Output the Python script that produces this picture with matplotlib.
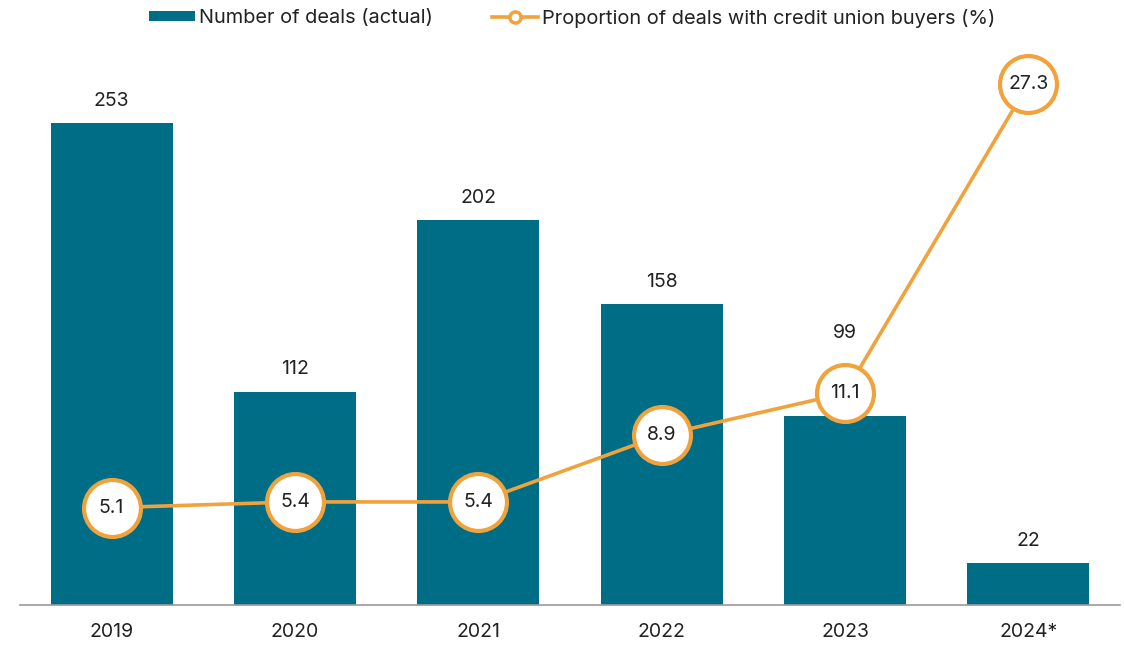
import matplotlib
matplotlib.use("Agg")
import matplotlib.pyplot as plt
from matplotlib.patches import Patch
from matplotlib.lines import Line2D

years = ["2019", "2020", "2021", "2022", "2023", "2024*"]
deal_counts = [253, 112, 202, 158, 99, 22]
credit_union_share = [5.1, 5.4, 5.4, 8.9, 11.1, 27.3]

TEAL = "#006d87"
ORANGE = "#f0a23c"
TEXT = "#222222"
FS = 14
LEGEND_FS = 14.4

plt.rcParams["font.family"] = ["Inter", "DejaVu Sans"]

fig = plt.figure(figsize=(11.24, 6.45), dpi=100)
W, H = 1124, 645
left, right, bottom, top = 20, 1120, 605, 40
ax = fig.add_axes([left / W, 1 - bottom / H, (right - left) / W, (bottom - top) / H])

x = list(range(len(years)))
ax.bar(x, deal_counts, width=0.665, color=TEAL, zorder=2)
ymax = (bottom - top) / 1.905
ax.set_ylim(0, ymax)
ax.set_xlim(-0.5, 5.5)

for xi, v in zip(x, deal_counts):
    # the 2023 label sits above the marker circle
    offset = 16 if v != 99 else 60
    ax.annotate(str(v), (xi, v), xytext=(0, offset), textcoords="offset points",
                ha="center", va="center", fontsize=FS, color=TEXT)

for s in ["top", "right", "left"]:
    ax.spines[s].set_visible(False)
ax.spines["bottom"].set_color("#9a9a9a")
ax.spines["bottom"].set_linewidth(1.2)
ax.set_yticks([])
ax.set_xticks(x)
ax.set_xticklabels(years, fontsize=FS, color=TEXT)
ax.tick_params(axis="x", length=0, pad=13)

ax2 = ax.twinx()
ax2.set_ylim(0, ymax / 10.02)
ax2.plot(x, credit_union_share, color=ORANGE, lw=2.6, marker="o", markersize=41,
         markerfacecolor="white", markeredgecolor=ORANGE, markeredgewidth=3, zorder=3)
for xi, v in zip(x, credit_union_share):
    ax2.text(xi, v, f"{v}", ha="center", va="center", fontsize=FS, color=TEXT, zorder=4)
ax2.axis("off")

handles = [
    Patch(facecolor=TEAL, edgecolor="none"),
    Line2D([], [], color=ORANGE, lw=2.6, marker="o", markersize=8,
           markerfacecolor="white", markeredgecolor=ORANGE, markeredgewidth=2.5),
]
labels = ["Number of deals (actual)", "Proportion of deals with credit union buyers (%)"]
fig.legend(handles, labels, loc="center", bbox_to_anchor=(572 / W, 1 - 18 / H),
           ncol=2, frameon=False, fontsize=LEGEND_FS, handlelength=2.3, handleheight=0.4,
           handletextpad=0.2, columnspacing=2.95, labelcolor=TEXT)

fig.savefig("out.png", dpi=100, facecolor="white")
